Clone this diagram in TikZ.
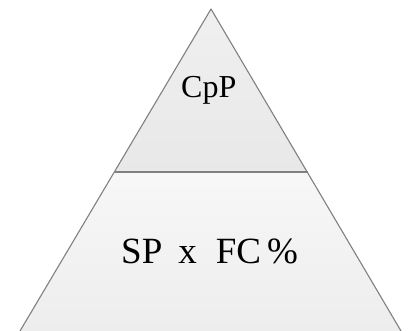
\documentclass[tikz,border=0pt]{standalone}
\usepackage{fontspec}
\setmainfont{Liberation Serif}
\begin{document}
\begin{tikzpicture}[x=1pt,y=-1pt,
  edge/.style={draw=black!50,line width=1.1pt,line join=round},
  lbl/.style={inner sep=0pt,anchor=base west,text=black}]
\useasboundingbox (0,0) rectangle (409,331);
\coordinate (apex) at (211,9);
\coordinate (bl) at (20,331);
\coordinate (br) at (401,331);
\coordinate (ml) at (114.5,172);
\coordinate (mr) at (307.5,172);
% top section
\shade[top color=black!6,bottom color=black!9] (apex) -- (ml) -- (mr) -- cycle;
% bottom section
\shade[top color=black!3,bottom color=black!7] (ml) -- (bl) -- (br) -- (mr) -- cycle;
\draw[edge] (ml) -- (mr);
\draw[edge] (bl) -- (apex) -- (br);
\node[lbl,font=\fontsize{32}{34}\selectfont] (top) at (181,98) {CpP};
\node[lbl,font=\fontsize{37}{39}\selectfont] (bot) at (121,263) {SP\hspace{16pt}x\hspace{19pt}FC\hspace{6pt}\%};
\end{tikzpicture}
\end{document}
